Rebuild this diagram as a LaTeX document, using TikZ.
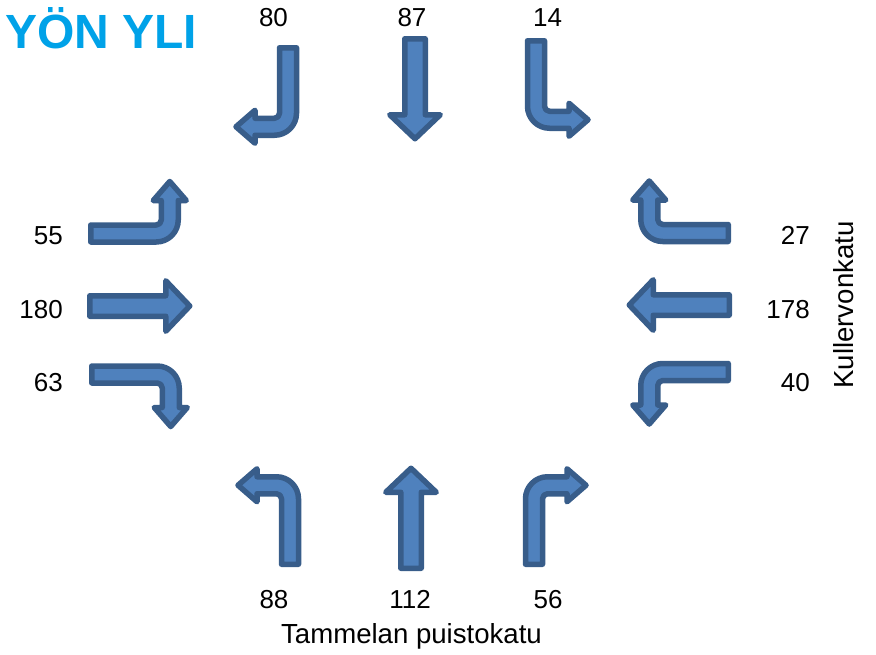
\documentclass[tikz,border=0pt]{standalone}
\usepackage{fontspec}
\setmainfont{Liberation Sans}
\definecolor{arrowfill}{RGB}{79,129,189}
\definecolor{arrowline}{RGB}{56,93,138}
\definecolor{titleblue}{RGB}{0,162,232}
\tikzset{
    lane/.style={fill=arrowfill, draw=arrowline, line width=5.5pt, line join=round},
    count/.style={font=\fontsize{26}{30}\selectfont, inner sep=0pt},
    street/.style={font=\fontsize{27.6}{32}\selectfont, inner sep=0pt}
}

\begin{document}
\begin{tikzpicture}[x=1pt,y=1pt]
    \useasboundingbox (0,0) rectangle (876,-654);

    % straight arrow, tail at origin, pointing up
    \def\through#1#2{
        \begin{scope}[shift={(#1)},#2]
            \draw[lane] (10.25,0) -- (10.25,76) -- (25.25,76) -- (0,100) -- (-25.25,76) -- (-10.25,76) -- (-10.25,0) -- cycle;
        \end{scope}
    }
    % bent arrow, tail at origin, up then left
    \def\turn#1#2{
        \begin{scope}[shift={(#1)},#2]
            \draw[lane] (8.5,0) -- (8.5,65.5) arc[start angle=0, end angle=90, radius=22] -- (-33,87.5) -- (-33,95.5) -- (-52,79) -- (-33,62.5) -- (-33,70.5) -- (-13.5,70.5) arc[start angle=90, end angle=0, radius=5] -- (-8.5,65.5) -- (-8.5,0) -- cycle;
        \end{scope}
    }

    % Title
    \node[anchor=base west, inner sep=0pt, text=titleblue, font=\fontsize{48}{52}\selectfont\bfseries] (title) at (5,-48) {YÖN YLI};

    % North
    \turn{288,-47.75}{yscale=-1}
    \through{415,-38.75}{rotate=180}
    \turn{536,-40.75}{rotate=180}
    \node[count, anchor=base] (n80) at (273.5,-26.7) {80};
    \node[count, anchor=base] (n87) at (412,-26.7) {87};
    \node[count, anchor=base] (n14) at (547.5,-26.7) {14};

    % West
    \turn{90.75,-233.5}{rotate=-90}
    \through{89.75,-306}{rotate=-90}
    \turn{91.75,-374.5}{rotate=-90,xscale=-1}
    \node[count, anchor=base east] (w55) at (63,-244) {55};
    \node[count, anchor=base east] (w180) at (63,-318) {180};
    \node[count, anchor=base east] (w63) at (63,-391) {63};

    % East (Kullervonkatu)
    \turn{728.25,-233}{rotate=90,xscale=-1}
    \through{729.25,-305}{rotate=90}
    \turn{728.25,-372}{rotate=90}
    \node[count, anchor=base east] (e27) at (810,-244) {27};
    \node[count, anchor=base east] (e178) at (810,-318) {178};
    \node[count, anchor=base east] (e40) at (810,-391) {40};
    \node[street, anchor=base, rotate=90] (kuller) at (853,-305) {Kullervonkatu};

    % South (Tammelan puistokatu)
    \turn{290,-564.25}{}
    \through{411,-568.25}{}
    \turn{534,-564.25}{xscale=-1}
    \node[count, anchor=base] (s88) at (274,-608) {88};
    \node[count, anchor=base] (s112) at (410,-608) {112};
    \node[count, anchor=base] (s56) at (548,-608) {56};
    \node[street, anchor=base] (tammela) at (411.5,-643) {Tammelan puistokatu};
\end{tikzpicture}
\end{document}
